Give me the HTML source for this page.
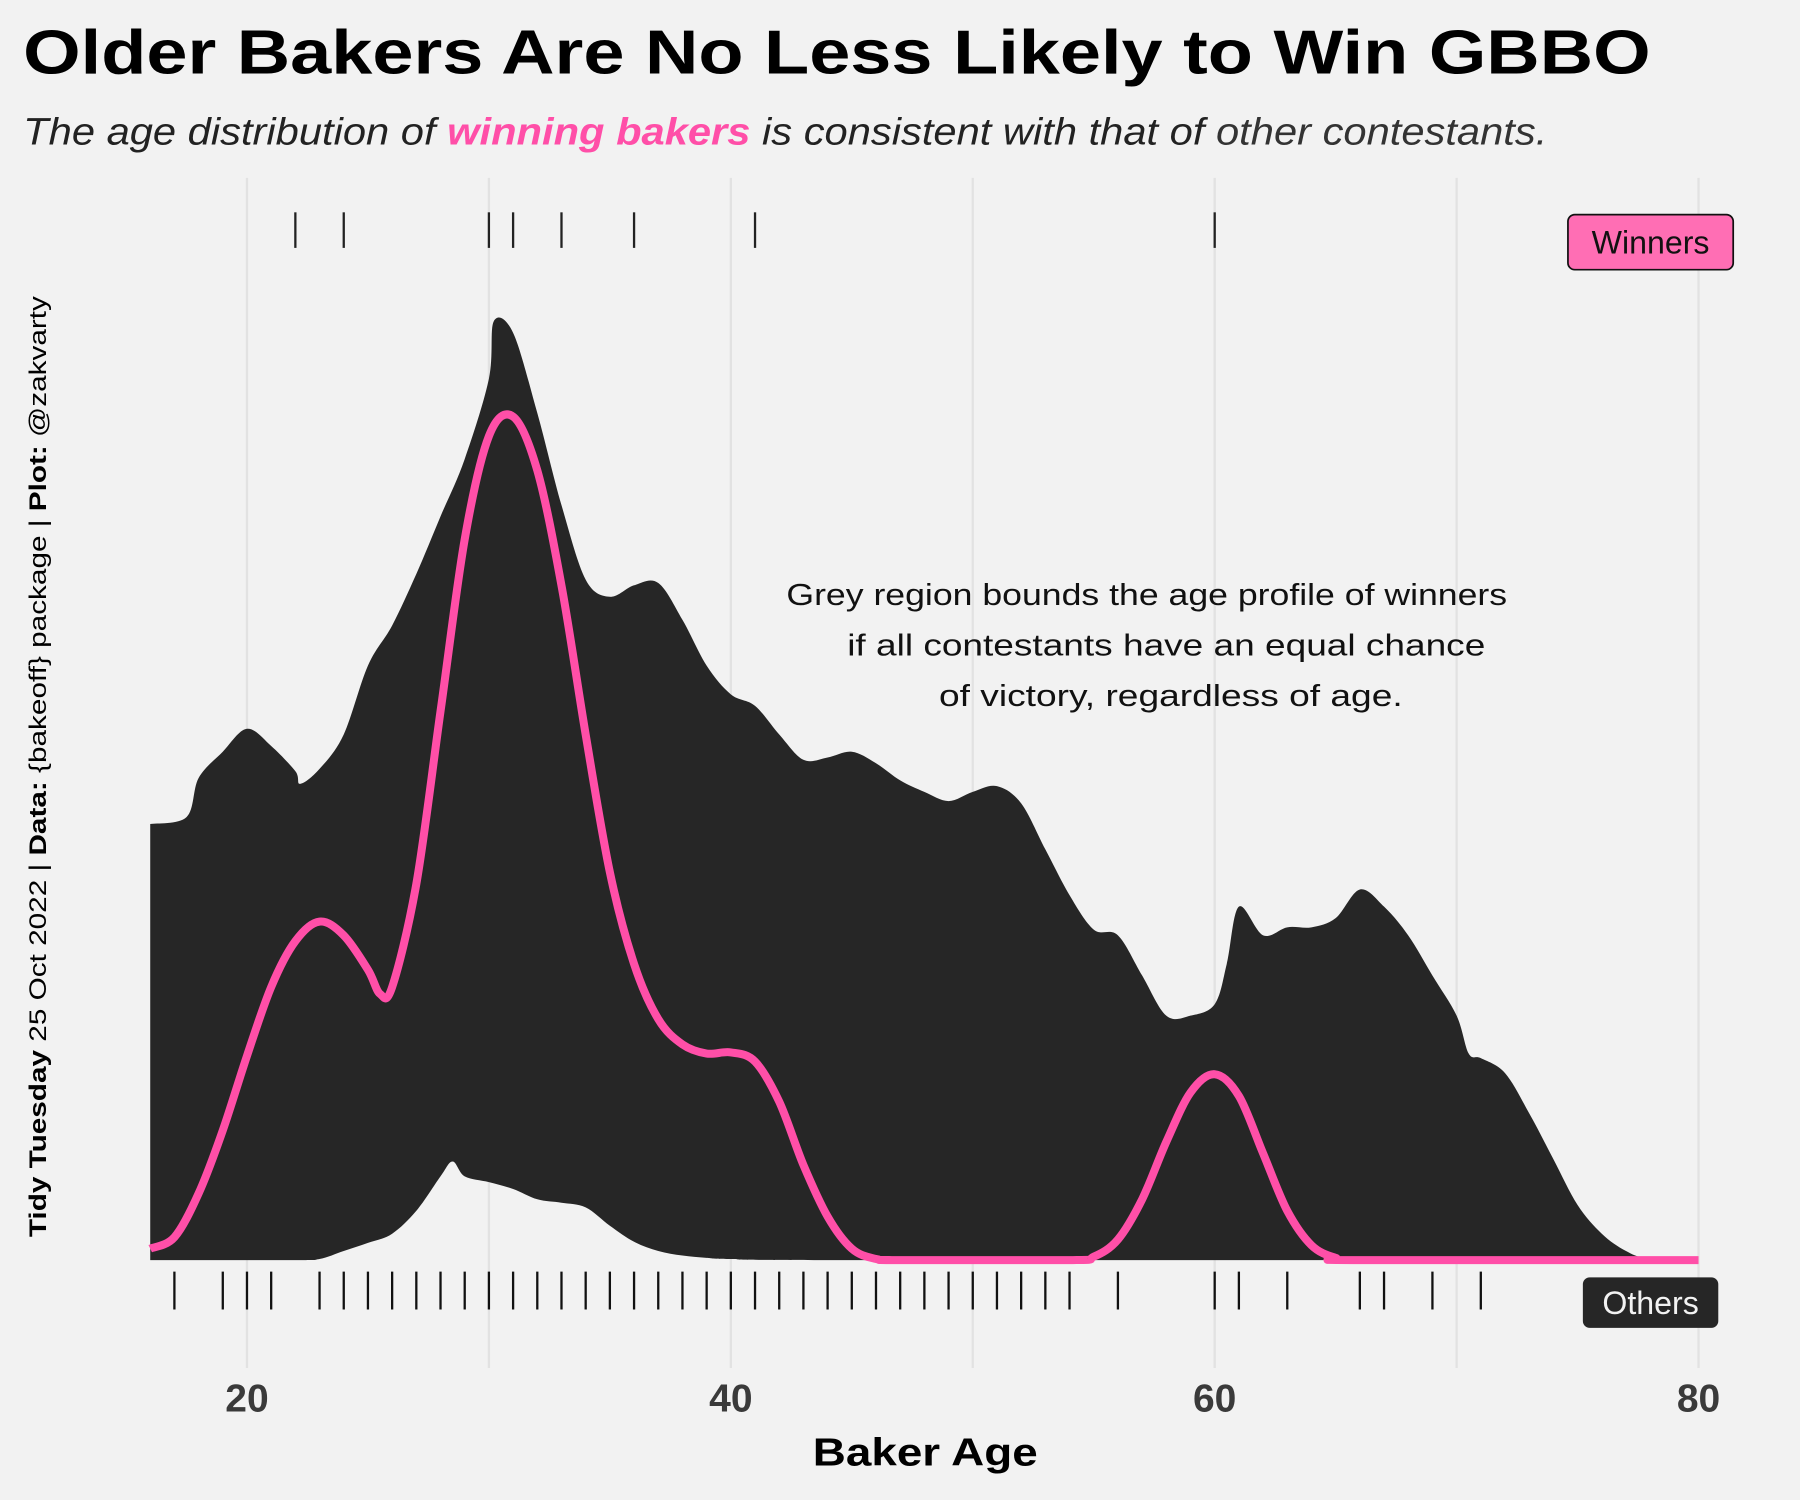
<!DOCTYPE html>
<html><head><meta charset="utf-8"><style>
html,body{margin:0;padding:0;background:#f2f2f2;}
svg{display:block;font-family:"Liberation Sans",sans-serif;}
</style></head><body>
<svg id="chart" width="1800" height="1500" viewBox="0 0 1568 1307" xmlns="http://www.w3.org/2000/svg">
<rect width="1568" height="1307" fill="#f2f2f2"/>
<text x="20" y="64" font-size="54" font-weight="bold" fill="#000" textLength="1418" lengthAdjust="spacingAndGlyphs">Older Bakers Are No Less Likely to Win GBBO</text>
<text x="20" y="126" font-size="33" font-style="italic" fill="#222" textLength="1328" lengthAdjust="spacingAndGlyphs">The age distribution of <tspan fill="#ff4fa8" font-weight="bold">winning bakers</tspan> is consistent with that of <tspan fill="#333">other contestants.</tspan></text>
<text transform="translate(40,1078) rotate(-90)" font-size="21" fill="#000" textLength="820" lengthAdjust="spacingAndGlyphs"><tspan font-weight="bold">Tidy Tuesday</tspan> 25 Oct 2022 | <tspan font-weight="bold">Data:</tspan> {bakeoff} package | <tspan font-weight="bold">Plot:</tspan> @zakvarty</text>
<g id="grid"></g>
<g id="band"></g>
<g id="line"></g>
<g id="rugs"></g>
<g id="xticks"></g>
<text x="806" y="1277" font-size="34" font-weight="bold" text-anchor="middle" fill="#000" textLength="196" lengthAdjust="spacingAndGlyphs">Baker Age</text>
<g font-size="27" fill="#111" text-anchor="middle">
<text x="999" y="527" textLength="628" lengthAdjust="spacingAndGlyphs">Grey region bounds the age profile of winners</text>
<text x="1016" y="571" textLength="556" lengthAdjust="spacingAndGlyphs">if all contestants have an equal chance</text>
<text x="1020" y="615" textLength="404" lengthAdjust="spacingAndGlyphs">of victory, regardless of age.</text>
</g>
<g>
<rect x="1366" y="187" width="144" height="48" rx="6" fill="#ff6eb4" stroke="#111" stroke-width="1.5"/>
<text x="1438" y="221" font-size="28" text-anchor="middle" fill="#111">Winners</text>
</g>
<g>
<rect x="1379" y="1113" width="118" height="44" rx="6" fill="#262626"/>
<text x="1438" y="1145" font-size="28" text-anchor="middle" fill="#f2f2f2">Others</text>
</g>
</svg>
<script>
const xTicks = [20, 40, 60, 80];
const gridAges = [20, 30, 40, 50, 60, 70, 80];
const bandAges = [16,17.5,18,19,20,21,22,22.2,23,24,25,26,27,28,29,30,30.2,31,32,33,34,35,36,37,38,39,40,41,42,43,44,45,46,47,48,49,50,51,52,53,54,55,56,57,58,59,60,60.5,61,62,63,64,65,66,67,68,69,70,70.5,71,72,73,74,75,76,77,78,80];
const bandUpper = [0.0380,0.0386,0.0420,0.0443,0.0463,0.0448,0.0426,0.0415,0.0428,0.0458,0.0518,0.0553,0.0598,0.0648,0.0698,0.0768,0.0818,0.0808,0.0738,0.0658,0.0593,0.0578,0.0588,0.0590,0.0558,0.0518,0.0493,0.0483,0.0458,0.0436,0.0438,0.0443,0.0433,0.0418,0.0408,0.0400,0.0408,0.0413,0.0398,0.0358,0.0318,0.0288,0.0283,0.0248,0.0213,0.0213,0.0223,0.0258,0.0308,0.0283,0.0290,0.0290,0.0298,0.0323,0.0308,0.0283,0.0248,0.0213,0.0180,0.0176,0.0163,0.0128,0.0088,0.0048,0.0023,0.0008,0.0001,0.0];
const lowerAges = [16,22,23,24,25,26,27,28,28.5,29,30,31,32,33,34,35,36,37,38,39,40,45,80];
const bandLower = [0,0,0.0001,0.0008,0.0015,0.0023,0.0043,0.0073,0.0086,0.0073,0.0068,0.0062,0.0053,0.0050,0.0046,0.0030,0.0016,0.0008,0.0004,0.0002,0.0001,0,0];
const winAges = [16,17,18,19,20,21,22,23,24,25,25.5,26,27,28,29,30,31,32,33,34,35,36,37,38,39,40,41,42,43,44,45,46,47,54,55,56,57,58,59,60,61,62,63,64,65,66,80];
const winDensity = [0.0010,0.0020,0.0058,0.0113,0.0178,0.0238,0.0278,0.0295,0.0283,0.0253,0.0232,0.0238,0.0328,0.0478,0.0628,0.0718,0.0735,0.0688,0.0588,0.0458,0.0338,0.0258,0.0210,0.0188,0.0180,0.0181,0.0173,0.0138,0.0083,0.0038,0.0010,0.0001,0,0,0.0003,0.0018,0.0053,0.0103,0.0146,0.0162,0.0143,0.0093,0.0043,0.0013,0.0002,0,0];
const winnerRug = [22,24,30,31,33,36,41,60];
const othersRug = [17,19,20,21,23,24,25,26,27,28,29,30,31,32,33,34,35,36,37,38,39,40,41,42,43,44,45,46,47,48,49,50,51,52,53,54,56,60,61,63,66,67,69,71];

const NS = "http://www.w3.org/2000/svg";
const x = a => 215 + (a - 20) * 21.08;
const y = d => 1098 - d * 10000;
function mk(tag, attrs, parent){const e=document.createElementNS(NS,tag);for(const k in attrs)e.setAttribute(k,attrs[k]);parent.appendChild(e);return e;}
function sortPts(ag, v){return ag.map((a,i)=>[x(a),y(v[i])]).sort((p,q)=>p[0]-q[0]);}
function smooth(pts, start){
  let d=(start?'M':'L')+pts[0][0].toFixed(1)+','+pts[0][1].toFixed(1);
  for(let i=0;i<pts.length-1;i++){
    const p0=pts[Math.max(0,i-1)],p1=pts[i],p2=pts[i+1],p3=pts[Math.min(pts.length-1,i+2)];
    let c1y=p1[1]+(p2[1]-p0[1])/6, c2y=p2[1]-(p3[1]-p1[1])/6;
    c1y=Math.min(c1y,1098); c2y=Math.min(c2y,1098);
    d+='C'+(p1[0]+(p2[0]-p0[0])/6).toFixed(1)+','+c1y.toFixed(1)+' '+(p2[0]-(p3[0]-p1[0])/6).toFixed(1)+','+c2y.toFixed(1)+' '+p2[0].toFixed(1)+','+p2[1].toFixed(1);
  }
  return d;
}
const grid=document.getElementById('grid');
gridAges.forEach(a=>{
  const l=mk('line',{x1:x(a),x2:x(a),y1:155,y2:1192,stroke:'#e2e2e2','stroke-width':2},grid);
  
  
});
const up=sortPts(bandAges,bandUpper), lo=sortPts(lowerAges,bandLower).reverse();
let d=smooth(up,true)+smooth(lo,false)+'Z';
const band=mk('path',{d:d,fill:'#262626'},document.getElementById('band'));


const wp=sortPts(winAges,winDensity);
const ln=mk('path',{d:smooth(wp,true),fill:'none',stroke:'#ff4fa8','stroke-width':7,'stroke-linejoin':'round'},document.getElementById('line'));


const rugs=document.getElementById('rugs');
winnerRug.forEach(a=>{
  const r=mk('line',{x1:x(a),x2:x(a),y1:185,y2:216,stroke:'#222','stroke-width':2},rugs);
  
  
});
othersRug.forEach(a=>{
  const r=mk('line',{x1:x(a),x2:x(a),y1:1108,y2:1141,stroke:'#111','stroke-width':2},rugs);
  
  
});
const xt=document.getElementById('xticks');
xTicks.forEach(a=>{
  const t=mk('text',{x:x(a),y:1230,'font-size':34,'font-weight':'bold','text-anchor':'middle',fill:'#3a3a3a'},xt);
  t.textContent=a;
  
  
});
</script>
</body></html>
